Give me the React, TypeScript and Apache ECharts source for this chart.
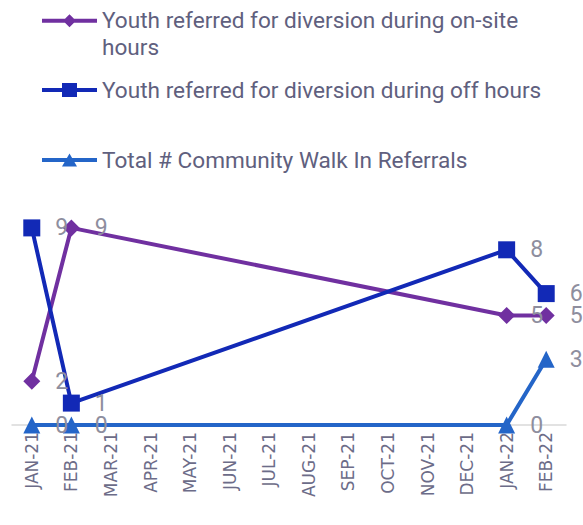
import React, { useEffect, useRef } from "react";
import * as echarts from "echarts";

const categories = ["JAN-21", "FEB-21", "MAR-21", "APR-21", "MAY-21", "JUN-21", "JUL-21", "AUG-21", "SEP-21", "OCT-21", "NOV-21", "DEC-21", "JAN-22", "FEB-22"];
const onSite = [2, 9, null, null, null, null, null, null, null, null, null, null, 5, 5];
const offHours = [9, 1, null, null, null, null, null, null, null, null, null, null, 8, 6];
const walkIn = [0, 0, null, null, null, null, null, null, null, null, null, null, 0, 3];

const seriesNames = [
  "Youth referred for diversion during on-site hours",
  "Youth referred for diversion during off hours",
  "Total # Community Walk In Referrals",
];

const FONT = "Roboto, 'Liberation Sans', sans-serif";
const LH = 26.5;

export default function App() {
  const ref = useRef<HTMLDivElement>(null);
  useEffect(() => {
    const chart = echarts.init(ref.current!, null, { renderer: "svg" });
    const labelStyle = {
      show: true,
      position: "right" as const,
      distance: 15,
      color: "#8e8e9e",
      fontSize: 23,
      fontFamily: FONT,
    };
    const mkLegend = (name: string, top: number, icon: string, h: number) => ({
      data: [{ name, icon }],
      left: 37,
      top,
      itemWidth: 55,
      itemHeight: h,
      itemGap: 4,
      selectedMode: false,
      textStyle: {
        color: "#60607e",
        fontSize: 22.6,
        fontFamily: FONT,
        width: 450,
        overflow: "break" as const,
        lineHeight: LH,
      },
    });
    chart.setOption({
      animation: false,
      legend: [
        mkLegend(
          seriesNames[0],
          20.7 - LH / 2 - 5,
          "path://M0,0L0.01,0Z M0,53L0.01,53Z M0,11.25H55V15.25H0Z M27.5,6.75L34,13.25L27.5,19.75L21,13.25Z",
          53
        ),
        mkLegend(seriesNames[1], 90 - LH / 2 - 5, "path://M0,5H55V9H0Z M20,0H35V14H20Z", 14),
        mkLegend(seriesNames[2], 160 - LH / 2 - 5, "path://M0,4.5H55V8.5H0Z M27.5,0L35,13H20Z", 13),
      ],
      grid: { left: 12, right: 17, top: 206, bottom: 100, containLabel: false },
      xAxis: {
        type: "category",
        data: categories,
        axisLine: { show: true, lineStyle: { color: "#d9d9d9", width: 1.5 } },
        axisTick: { show: false },
        axisLabel: { rotate: 90, color: "#6c6c88", fontSize: 17, fontFamily: "'DejaVu Sans', sans-serif", margin: 7 },
      },
      yAxis: { type: "value", min: 0, max: 10, show: false, splitLine: { show: false } },
      series: [
        {
          name: seriesNames[0],
          type: "line",
          data: onSite,
          connectNulls: true,
          symbol: "diamond",
          symbolSize: 17,
          color: "#7030a0",
          lineStyle: { width: 4, color: "#7030a0" },
          itemStyle: { color: "#7030a0" },
          label: labelStyle,
        },
        {
          name: seriesNames[1],
          type: "line",
          data: offHours,
          connectNulls: true,
          symbol: "rect",
          symbolSize: 17,
          color: "#1229b6",
          lineStyle: { width: 4, color: "#1229b6" },
          itemStyle: { color: "#1229b6" },
          label: labelStyle,
        },
        {
          name: seriesNames[2],
          type: "line",
          data: walkIn,
          connectNulls: true,
          symbol: "triangle",
          symbolSize: 17,
          color: "#2465c8",
          lineStyle: { width: 4, color: "#2465c8" },
          itemStyle: { color: "#2465c8" },
          label: labelStyle,
        },
      ],
    });
    return () => chart.dispose();
  }, []);
  return <div ref={ref} style={{ width: 583, height: 525, position: "absolute", left: 0, top: 0 }} />;
}
